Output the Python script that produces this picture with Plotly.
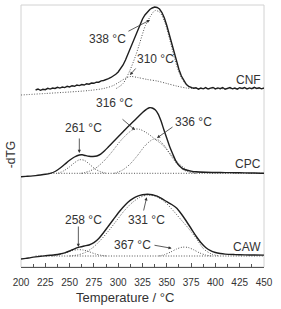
import plotly.graph_objects as go

# ---------------- data (values relative to each sample's baseline) ----------------
cnf_T = [215, 217.5, 220, 222.5, 225, 227.5, 230, 232.5, 235, 237.5, 240, 242.5, 245, 247.5,
         250, 252.5, 255, 257.5, 260, 262.5, 265, 267.5, 270, 272.5, 275, 277.5, 280, 282.5,
         285, 287.5, 290, 292.5, 295, 297.5, 300, 302.5, 305, 307.5, 310, 312.5, 315, 317.5,
         320, 322.5, 325, 327.5, 330, 332.5, 335, 337.5, 340, 342.5, 345, 347.5, 350, 352.5,
         355, 357.5, 360, 362.5, 365, 367.5, 370, 372.5, 375, 377.5, 380, 382.5, 385, 387.5,
         390, 392.5, 395, 397.5, 400, 402.5, 405, 407.5, 410, 412.5, 415, 417.5, 420, 422.5,
         425, 427.5, 430, 432.5, 435, 437.5, 440, 442.5, 445, 447.5, 450]
cnf_v = [-1.5, -0.5, -1.8, -0.8, -1.2, 0.2, -0.6, 0.5, 0.0, 1.2, 0.4, 1.5, 0.9, 2.2,
         1.6, 2.8, 2.2, 3.4, 2.9, 4.0, 3.5, 4.8, 4.3, 5.5, 5.2, 6.4, 6.3, 7.6,
         8.0, 9.3, 9.8, 11.0, 12.3, 14.2, 16.5, 19.5, 23.5, 28.5, 34.5, 40.5, 47, 53,
         59, 64.5, 69.5, 73.5, 76.5, 79, 80.5, 81.5, 81, 79.5, 76, 70.5, 63, 54,
         44.5, 35, 26.5, 19, 12.5, 7.5, 4.2, 2.0, 0.8, 0.2, 0.8, -0.6, 0.5, -0.3,
         0.9, -0.5, 0.3, 1.1, -0.4, 0.6, -0.2, 1.0, -0.7, 0.4, 0.9, -0.3, 0.5, -0.6,
         0.8, 0.1, 1.0, -0.4, 0.6, -0.2, 1.1, 0.0, 0.7, -0.3, 0.5]
cnf_base_T = [200, 225, 250, 270, 285, 295, 302, 308, 313, 320, 330, 340, 350, 360, 370, 380, 450]
cnf_base_v = [-6.5, -5, -3.5, -2, 0, 3, 7, 10.5, 12, 11, 9, 7.5, 5, 2.5, 0.5, 0, 0]
cnf_p338_T = [298, 305, 312, 318, 322, 328, 333, 338, 343, 348, 353, 358, 363, 368, 373, 380]
cnf_p338_v = [0, 5, 18, 33, 45, 63, 72, 78, 76, 66, 49, 30, 15, 6, 2, 0]

cpc_T = [200, 205, 210, 215, 220, 225, 230, 235, 240, 245, 250, 255, 260, 263, 266, 270, 274,
         278, 282, 286, 290, 295, 300, 305, 310, 315, 320, 325, 329, 332, 335, 338, 341, 344,
         347, 350, 353, 356, 359, 362, 366, 370, 375, 380, 390, 400, 410, 420, 430, 440, 450]
cpc_v = [-3.4, -3.1, -2.8, -2.3, -1.7, -1.0, 0.0, 1.8, 5.0, 9.0, 13.0, 16.3, 18.3, 18.5, 17.8,
         17.0, 16.8, 17.3, 19.2, 22.5, 26.5, 31.5, 36.5, 41.5, 46.5, 51.2, 56, 60.8, 64, 65.6,
         65.3, 63.5, 59.5, 52.5, 43.5, 35, 26.5, 19.5, 13, 8.5, 5.0, 3.3, 2.2, 1.5, 1.0, 0.8,
         0.7, 0.6, 0.4, 0.3, 0.0]
cpc_base_T = [228, 450]
cpc_base_v = [0, 0]
cpc_p261_T = [238, 244, 250, 255, 260, 265, 270, 276, 282, 288]
cpc_p261_v = [0, 2.5, 6.5, 10.5, 13.5, 13, 9.5, 4.5, 1.5, 0]
cpc_p316_T = [262, 270, 278, 286, 294, 302, 310, 316, 322, 330, 338, 346, 354, 362, 370, 378]
cpc_p316_v = [0, 2, 6, 13, 22, 32, 40, 44, 44, 40, 34, 28, 19, 10, 4, 0.5]
cpc_p336_T = [296, 304, 312, 320, 328, 336, 342, 348, 354, 360, 366, 372, 380]
cpc_p336_v = [0, 3, 9, 18, 28, 34, 33, 27, 18, 10, 4, 1.5, 0]

caw_T = [200, 205, 210, 215, 220, 225, 230, 235, 240, 245, 250, 255, 260, 265, 270, 275, 280,
         285, 290, 295, 300, 305, 310, 315, 320, 325, 330, 335, 340, 345, 350, 355, 360, 365,
         370, 375, 380, 385, 390, 395, 400, 405, 410, 420, 430, 440, 450]
caw_v = [-3, -2.4, -1.6, -0.9, -0.3, 0.2, 0.7, 1.2, 2.0, 3.2, 5.0, 7.2, 8.8, 10.0, 11.0, 13.3,
         17.5, 23.5, 30.0, 36.5, 43.0, 48.8, 53.8, 57.3, 59.8, 61.2, 61.8, 61.3, 59.8, 57.3,
         54.3, 51.5, 48, 42, 35, 27.5, 20, 13.5, 8.5, 5.3, 3.5, 2.5, 1.9, 1.4, 1.1, 1.0, 0.9]
caw_base_T = [215, 450]
caw_base_v = [0, 0]
caw_p258_T = [232, 240, 246, 252, 258, 264, 270, 276, 282, 288]
caw_p258_v = [0, 1.5, 3.2, 5.2, 6.3, 6.0, 4.3, 2.2, 0.8, 0]
caw_p331_T = [250, 258, 266, 274, 282, 290, 298, 306, 314, 322, 331, 340, 348, 356, 364, 372,
              380, 388, 396, 404]
caw_p331_v = [0, 1.0, 3.5, 8.5, 16, 25, 35, 45, 53, 58.5, 61.0, 59, 54, 46, 37, 28, 18, 7, 2, 0]
caw_p367_T = [342, 348, 354, 360, 366, 372, 378, 384, 390, 396]
caw_p367_v = [0, 1.5, 4, 7, 8.8, 8.5, 6, 3, 1, 0]

sample_names = ["CNF", "CPC", "CAW"]
peak_labels = ["338 °C", "310 °C", "316 °C", "261 °C", "336 °C", "258 °C", "331 °C", "367 °C"]

# ---------------- layout helpers (vertical stacking of samples) ----------------
offset = {"CNF": 178.5, "CPC": 93.7, "CAW": 11.0}

DATA_COLOR = "#1e1e1e"
FIT_COLOR = "#555555"
FONT = "Liberation Sans, Arial, sans-serif"

fig = go.Figure()

def add_data(T, v, name, shape="linear"):
    fig.add_trace(go.Scatter(x=T, y=[a + offset[name] for a in v], mode="lines",
                             line=dict(color=DATA_COLOR, width=1.4, shape=shape,
                                       smoothing=0.8 if shape == "spline" else None),
                             showlegend=False, hoverinfo="skip"))

def add_fit(T, v, name):
    fig.add_trace(go.Scatter(x=T, y=[a + offset[name] for a in v], mode="lines",
                             line=dict(color=FIT_COLOR, width=1, dash="1px,1.6px",
                                       shape="spline", smoothing=0.8),
                             showlegend=False, hoverinfo="skip"))

# CNF
add_fit(cnf_base_T, cnf_base_v, "CNF")
add_fit(cnf_p338_T, cnf_p338_v, "CNF")
add_data(cnf_T, cnf_v, "CNF")
# CPC
add_fit(cpc_base_T, cpc_base_v, "CPC")
add_fit(cpc_p261_T, cpc_p261_v, "CPC")
add_fit(cpc_p316_T, cpc_p316_v, "CPC")
add_fit(cpc_p336_T, cpc_p336_v, "CPC")
add_data(cpc_T, cpc_v, "CPC", "spline")
# CAW
add_fit(caw_base_T, caw_base_v, "CAW")
add_fit(caw_p258_T, caw_p258_v, "CAW")
add_fit(caw_p331_T, caw_p331_v, "CAW")
add_fit(caw_p367_T, caw_p367_v, "CAW")
add_data(caw_T, caw_v, "CAW", "spline")

annotations = []
# arrows: (tipT, tipY, startT, startY)
arrows = [(332.7, 247, 309, 235), (312.1, 192, 319.3, 200),
          (317.3, 137, 302.9, 149), (260, 114, 260, 130), (339.9, 129, 357.4, 141),
          (259, 20, 259, 42), (329.3, 69.7, 325.8, 55), (355, 18.7, 335.8, 22)]
for tx, ty, sx, sy in arrows:
    annotations.append(dict(x=tx, y=ty, ax=sx, ay=sy, xref="x", yref="y", axref="x", ayref="y",
                            text="", showarrow=True, arrowhead=2, arrowsize=0.8,
                            arrowwidth=0.8, arrowcolor="#333", standoff=0, startstandoff=0))
label_pos = [(289.5, 228), (337.9, 208), (296.7, 164), (264.8, 139), (377, 145),
             (263.8, 47), (329.6, 47), (315.2, 22)]
for txt, (x, y) in zip(peak_labels, label_pos):
    annotations.append(dict(x=x, y=y, xref="x", yref="y", text=txt, showarrow=False,
                            xanchor="center", yanchor="middle",
                            font=dict(family=FONT, size=12, color="#333")))
for nm, y in zip(sample_names, [187, 103, 20]):
    annotations.append(dict(x=448.5, y=y, xref="x", yref="y", text=nm, showarrow=False,
                            xanchor="right", yanchor="middle",
                            font=dict(family=FONT, size=12, color="#333")))
annotations.append(dict(x=-0.041, y=0.427, xref="paper", yref="paper", text="-dTG",
                        textangle=-90, showarrow=False, xanchor="center", yanchor="middle",
                        font=dict(family=FONT, size=12, color="#333")))
annotations.append(dict(x=0.428, y=-0.118, xref="paper", yref="paper",
                        text="Temperature / °C", showarrow=False,
                        xanchor="center", yanchor="middle",
                        font=dict(family=FONT, size=13, color="#333")))

fig.update_layout(
    width=281, height=309,
    margin=dict(l=21, r=17, t=5, b=42),
    paper_bgcolor="white", plot_bgcolor="white",
    annotations=annotations,
    shapes=[dict(type="rect", xref="paper", yref="paper", x0=0, x1=1, y0=0, y1=1,
                 line=dict(color="#d2d2d2", width=1), layer="below")],
    xaxis=dict(range=[200, 450], tickvals=list(range(200, 451, 25)), showgrid=False,
               zeroline=False, showline=True, linecolor="#555", linewidth=1,
               ticks="inside", ticklen=4, tickwidth=1, tickcolor="#555",
               ticklabelstandoff=6,
               minor=dict(ticks="inside", ticklen=3, dtick=12.5, tickcolor="#555",
                          showgrid=False),
               tickfont=dict(family=FONT, size=10, color="#333")),
    yaxis=dict(range=[0, 262], visible=False),
)

fig.write_html("out.html", config={"displayModeBar": False},
               post_script="document.body.style.margin='0';")
